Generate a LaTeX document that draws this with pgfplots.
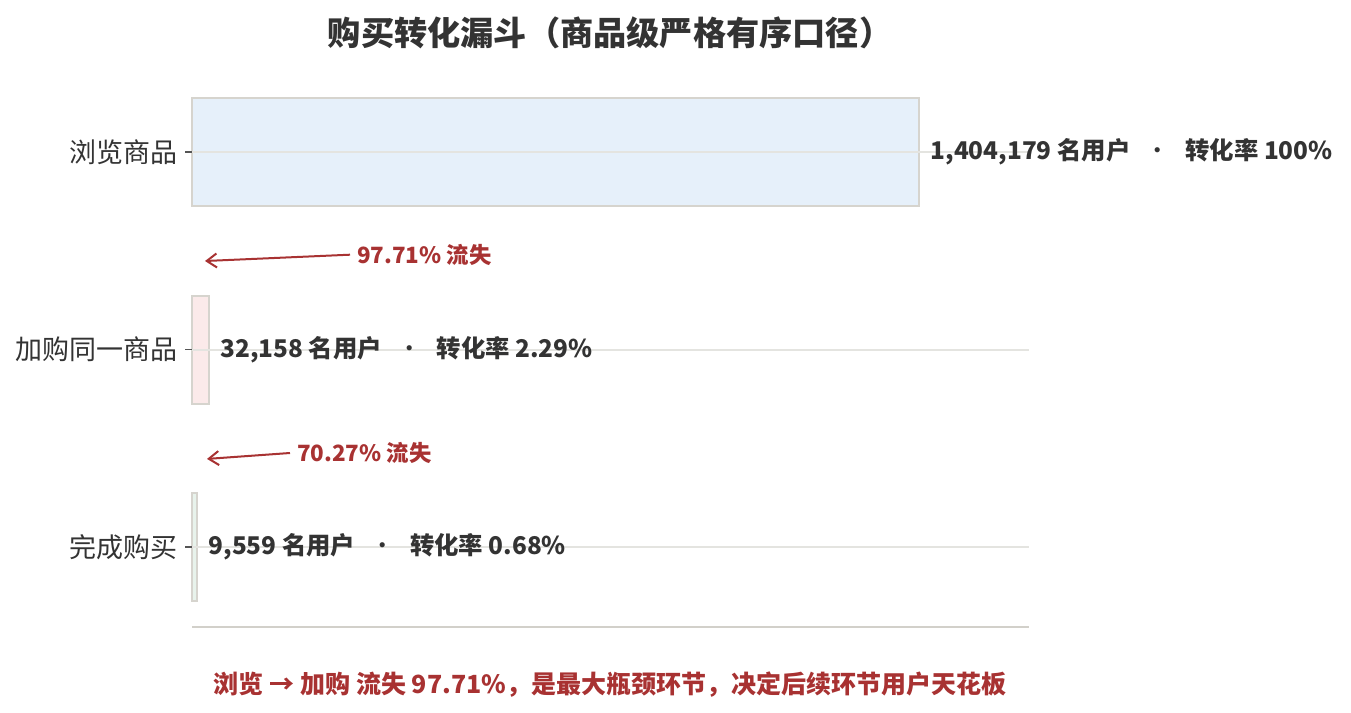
\documentclass[border=0pt]{standalone}
\usepackage{fontspec}
\setmainfont{Noto Sans CJK SC}
\usepackage{pgfplots}
\pgfplotsset{compat=1.18}
\usetikzlibrary{arrows.meta}

\definecolor{txt}{HTML}{333333}
\definecolor{tickc}{HTML}{555555}
\definecolor{gridc}{HTML}{E4E4E0}
\definecolor{axisc}{HTML}{D2D0CA}
\definecolor{edgec}{HTML}{D6D4CE}
\definecolor{viewc}{HTML}{E6F0FA}
\definecolor{cartc}{HTML}{FBEAEA}
\definecolor{buyc}{HTML}{E8F3EC}
\definecolor{lossc}{HTML}{A83232}

\newcommand{\sep}{\hspace{0.62em}{\mdseries·}\hspace{0.62em}}

\begin{document}
\begin{tikzpicture}
\path[use as bounding box] (0,0) rectangle (675.5pt,356.5pt);

\node[font=\bfseries\fontsize{16.6}{19}\selectfont, text=txt] at (305pt,340pt)
  {购买转化漏斗（商品级严格有序口径）};

\begin{axis}[
    at={(96pt,43pt)}, anchor=south west,
    scale only axis, width=418.5pt, height=277.5pt,
    xbar, bar width=54pt, bar shift=0pt,
    xmin=0, xmax=1616640,
    ymin=-0.405, ymax=2.405, y dir=reverse,
    ytick={0,1,2},
    yticklabels={浏览商品,加购同一商品,完成购买},
    xtick=\empty,
    tick align=outside, ytick pos=left,
    major tick length=3.5pt,
    ytick style={draw=tickc, line width=0.6pt},
    axis line style={draw=none},
    ymajorgrids, grid style={draw=gridc, line width=1pt},
    axis on top,
    yticklabel style={font=\fontsize{13.5}{15}\selectfont, text=txt},
    every node near coord/.append style={anchor=west, xshift=2pt,
      font=\bfseries\fontsize{12.2}{14}\selectfont, text=txt},
    clip=false,
  ]

  % 浏览商品
  \addplot[fill=viewc, draw=edgec, line width=1pt,
    nodes near coords={1,404,179 名用户\sep 转化率 100\%}]
    coordinates {(1404179,0)};
  % 加购同一商品
  \addplot[fill=cartc, draw=edgec, line width=1pt,
    nodes near coords={32,158 名用户\sep 转化率 2.29\%}]
    coordinates {(32158,1)};
  % 完成购买
  \addplot[fill=buyc, draw=edgec, line width=1pt,
    nodes near coords={9,559 名用户\sep 转化率 0.68\%}]
    coordinates {(9559,2)};

  % bottom axis line
  \draw[axisc, line width=1pt] (axis cs:0,2.405) -- (axis cs:1616640,2.405);

  % loss annotations
  \draw[lossc, line width=1pt, -{Straight Barb[length=5pt,width=7pt]}]
    (axis cs:305200,0.52) -- (axis cs:25100,0.552);
  \node[anchor=west, text=lossc, font=\bfseries\fontsize{11.2}{13}\selectfont]
    at (axis cs:305200,0.52) {97.71\% 流失};
  \draw[lossc, line width=1pt, -{Straight Barb[length=5pt,width=7pt]}]
    (axis cs:189300,1.524) -- (axis cs:29000,1.554);
  \node[anchor=west, text=lossc, font=\bfseries\fontsize{11.2}{13}\selectfont]
    at (axis cs:189300,1.524) {70.27\% 流失};
\end{axis}

\node[font=\bfseries\fontsize{12.5}{14}\selectfont, text=lossc] at (305pt,14pt)
  {浏览 → 加购 流失 97.71\%，是最大瓶颈环节，决定后续环节用户天花板};
\end{tikzpicture}
\end{document}
